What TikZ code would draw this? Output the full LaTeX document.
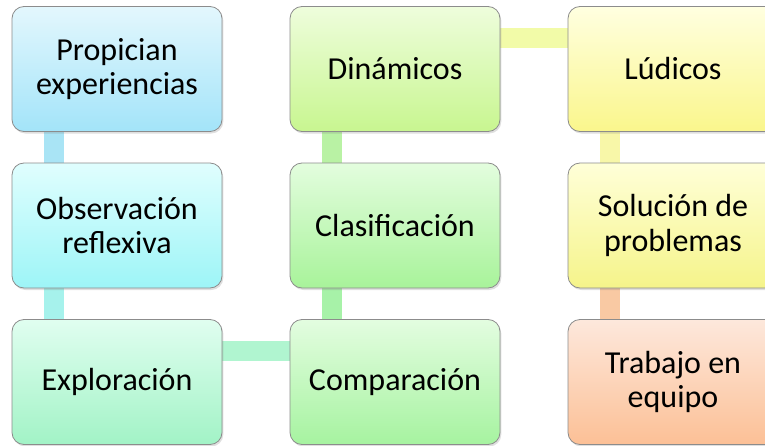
\documentclass[tikz,border=0pt]{standalone}
\usepackage{fontspec}
\setmainfont{Carlito}
\usetikzlibrary{shadows,backgrounds}

\definecolor{propTop}{HTML}{E3F7FD}\definecolor{propBot}{HTML}{A3E4F9}
\definecolor{obsTop}{HTML}{E0FEFE}\definecolor{obsBot}{HTML}{9DF5F7}
\definecolor{explTop}{HTML}{E0FEF0}\definecolor{explBot}{HTML}{A2F3C6}
\definecolor{compTop}{HTML}{E3FDE0}\definecolor{compBot}{HTML}{A6F3A0}
\definecolor{clasTop}{HTML}{E3FDDE}\definecolor{clasBot}{HTML}{A8F39A}
\definecolor{dinTop}{HTML}{EEFDDC}\definecolor{dinBot}{HTML}{C8F690}
\definecolor{ludTop}{HTML}{FFFFE0}\definecolor{ludBot}{HTML}{FAF68C}
\definecolor{solTop}{HTML}{FFFFD8}\definecolor{solBot}{HTML}{F5F48A}
\definecolor{trabTop}{HTML}{FDE8DC}\definecolor{trabBot}{HTML}{FCC096}

% connector colours
\definecolor{propLink}{HTML}{A9E4F5}
\definecolor{obsLink}{HTML}{A6F2EC}
\definecolor{explLink}{HTML}{B0F5D0}
\definecolor{compLink}{HTML}{A7F2A8}
\definecolor{clasLink}{HTML}{B9F2A4}
\definecolor{dinLink}{HTML}{F2FBA8}
\definecolor{ludLink}{HTML}{F8F7A8}
\definecolor{solLink}{HTML}{F9C9A3}

\begin{document}
\begin{tikzpicture}[x=0.75pt, y=-0.75pt,
    stagebox/.style 2 args={draw=gray!90, line width=0.6pt, rounded corners=9pt,
        top color=#1, bottom color=#2, minimum width=157.5pt, minimum height=93.75pt,
        align=center, font=\fontsize{24}{26}\selectfont,
        drop shadow={opacity=0.25, shadow xshift=1pt, shadow yshift=-1.5pt}},
    link/.style={line width=15pt, draw=#1}]
    \useasboundingbox (0,0) rectangle (765,446);
    \clip (0,0) rectangle (765,446);

    % First column
    \node[stagebox={propTop}{propBot}] (prop) at (117,69) {Propician\\experiencias};
    \node[stagebox={obsTop}{obsBot}] (obs) at (117,225.5) {Observación\\reflexiva};
    \node[stagebox={explTop}{explBot}] (expl) at (117,382) {Exploración};

    % Second column
    \node[stagebox={compTop}{compBot}] (comp) at (395,382) {Comparación};
    \node[stagebox={clasTop}{clasBot}] (clas) at (395,225.5) {Clasificación};
    \node[stagebox={dinTop}{dinBot}] (din) at (395,69) {Dinámicos};

    % Third column
    \node[stagebox={ludTop}{ludBot}] (lud) at (673,69) {Lúdicos};
    \node[stagebox={solTop}{solBot}] (sol) at (673,225.5) {Solución de\\problemas};
    \node[stagebox={trabTop}{trabBot}] (trab) at (673,382) {Trabajo en\\equipo};

    % Connectors behind the boxes
    \begin{scope}[on background layer]
        \draw[link=propLink] ([xshift=32pt]prop.south west) -- ([xshift=32pt]obs.north west);
        \draw[link=obsLink] ([xshift=32pt]obs.south west) -- ([xshift=32pt]expl.north west);
        \draw[link=explLink] ([yshift=-24pt]expl.north east) -- ([yshift=-24pt]comp.north west);
        \draw[link=compLink] ([xshift=32pt]comp.north west) -- ([xshift=32pt]clas.south west);
        \draw[link=clasLink] ([xshift=32pt]clas.north west) -- ([xshift=32pt]din.south west);
        \draw[link=dinLink] ([yshift=-24pt]din.north east) -- ([yshift=-24pt]lud.north west);
        \draw[link=ludLink] ([xshift=32pt]lud.south west) -- ([xshift=32pt]sol.north west);
        \draw[link=solLink] ([xshift=32pt]sol.south west) -- ([xshift=32pt]trab.north west);
    \end{scope}
\end{tikzpicture}
\end{document}
